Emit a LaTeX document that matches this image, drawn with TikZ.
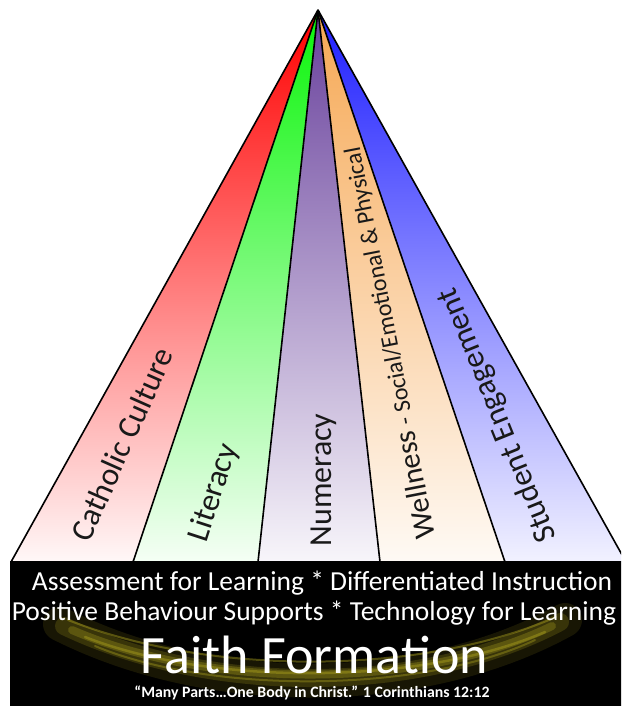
\documentclass[tikz,border=0pt]{standalone}
\usepackage{fontspec}
\setmainfont{Carlito}
\begin{document}
\begin{tikzpicture}[x=1pt,y=-1pt,
  edge/.style={draw=black,line width=1.6pt,line join=round},
  lbl/.style={inner sep=0pt,text=black!90,font=\fontsize{32}{32}\selectfont},
  boxtxt/.style={inner sep=0pt,text=white,anchor=base},
  glow/.style={line cap=round,draw=glowc}]
\definecolor{cred}{RGB}{255,0,0}
\definecolor{cgreen}{RGB}{10,245,10}
\definecolor{cpurple}{RGB}{104,64,156}
\definecolor{corange}{RGB}{246,168,84}
\definecolor{cblue}{RGB}{30,30,255}
\definecolor{glowc}{RGB}{170,160,30}
\useasboundingbox (0,0) rectangle (621,706);
\clip (0,0) rectangle (621,706);
\fill[white] (0,0) rectangle (621,706);
% apex and base points
\coordinate (apex) at (318,10);
\coordinate (b0) at (11,562);
\coordinate (b1) at (133,562);
\coordinate (b2) at (258,562);
\coordinate (b3) at (380,562);
\coordinate (b4) at (505,562);
\coordinate (b5) at (626,562);
% wedges
\shade[top color=cred, middle color=cred!65!white, bottom color=cred!3!white] (apex) -- (b0) -- (b1) -- cycle;
\shade[top color=cgreen, middle color=cgreen!65!white, bottom color=cgreen!4!white] (apex) -- (b1) -- (b2) -- cycle;
\shade[top color=cpurple, middle color=cpurple!65!white, bottom color=cpurple!5!white] (apex) -- (b2) -- (b3) -- cycle;
\shade[top color=corange, middle color=corange!68!white, bottom color=corange!6!white] (apex) -- (b3) -- (b4) -- cycle;
\shade[top color=cblue, middle color=cblue!65!white, bottom color=cblue!6!white] (apex) -- (b4) -- (b5) -- cycle;
\foreach \b in {b0,b1,b2,b3,b4,b5} \draw[edge] (apex) -- (\b);
% labels
\node[lbl,rotate=66] (cath) at (122,444) {Catholic Culture};
\node[lbl,rotate=72] (lit) at (214,493) {Literacy};
\node[lbl,rotate=90] (num) at (324,480) {Numeracy};
\node[lbl,rotate=101,font=\fontsize{30}{30}\selectfont] (well) at (389,343) {Wellness {\fontsize{24}{24}\selectfont - Social/Emotional \& Physical}};
\node[lbl,rotate=112] (stud) at (498,415) {Student Engagement};
% black box
\fill[black] (10,561) rectangle (640,720);
% glow (soft olive arc behind the title)
\draw[glow,line width=34pt,opacity=0.14] (60,624) .. controls (210,700) and (420,700) .. (565,620);
\draw[glow,line width=18pt,opacity=0.22] (64,626) .. controls (210,696) and (420,696) .. (560,622);
\draw[glow,line width=8pt,opacity=0.32] (72,630) .. controls (210,690) and (420,690) .. (552,626);
\draw[glow,line width=2.5pt,opacity=0.45] (85,637) .. controls (210,686) and (420,686) .. (545,632);
\draw[glow,line width=2pt,opacity=0.45] (68,620) .. controls (210,676) and (420,676) .. (556,617);
\draw[glow,line width=2pt,opacity=0.4] (95,646) .. controls (210,694) and (420,694) .. (535,640);
% box texts
\node[boxtxt,font=\fontsize{27.5}{28}\selectfont] (l1) at (322,590) {Assessment for Learning * Differentiated Instruction};
\node[boxtxt,font=\fontsize{27.5}{28}\selectfont] (l2) at (314,620) {Positive Behaviour Supports * Technology for Learning};
\node[boxtxt,font=\fontsize{54}{54}\selectfont] (ff) at (314.5,673) {Faith Formation};
\node[boxtxt,font=\bfseries\fontsize{15.8}{16}\selectfont] (quote) at (312,697) {“Many Parts…One Body in Christ.” 1 Corinthians 12:12};
\end{tikzpicture}
\end{document}
